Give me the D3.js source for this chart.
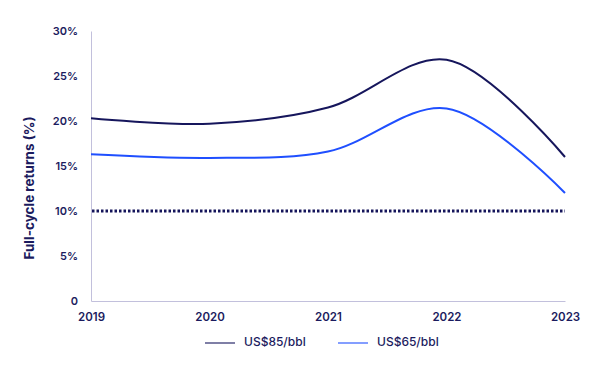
<!DOCTYPE html>
<html>
<head>
<meta charset="utf-8">
<script src="https://cdn.jsdelivr.net/npm/d3@7"></script>
<style>
  body { margin: 0; background: #fff; }
  text { font-family: Inter, "Noto Sans", sans-serif; fill: #1b1b5e; }
</style>
</head>
<body>
<div class="svg-container"></div>
<script>
// data
const years = [2019, 2020, 2021, 2022, 2023];
const us85 = [20.3, 19.7, 21.5, 26.8, 16.0];
const us65 = [16.3, 15.9, 16.6, 21.4, 12.0];
const hurdle = 10;
const yTicks = [0, 5, 10, 15, 20, 25, 30];
const seriesNames = ["US$85/bbl", "US$65/bbl"];
const seriesColours = ["#16165c", "#1f4fff"];

const width = 600, height = 380;
const margin = { top: 31, right: 35, bottom: 79, left: 91 };

const svg = d3.select(".svg-container")
  .append("svg")
  .attr("width", width)
  .attr("height", height);

const xScale = d3.scaleLinear()
  .domain([2019, 2023])
  .range([margin.left, width - margin.right]);

const yScale = d3.scaleLinear()
  .domain([0, 30])
  .range([height - margin.bottom, margin.top]);

// X-AXIS
const xAxis = svg.append("g")
  .attr("transform", "translate(0," + (height - margin.bottom) + ")")
  .call(d3.axisBottom(xScale).tickValues(years).tickFormat(d3.format("d")).tickSize(0).tickPadding(12));
xAxis.select(".domain").attr("stroke", "#c2c0dc");
xAxis.selectAll("text").style("font-size", "11.5px").style("font-weight", 600);

// Y-AXIS
const yAxis = svg.append("g")
  .attr("transform", "translate(" + margin.left + ",0)")
  .call(d3.axisLeft(yScale).tickValues(yTicks)
    .tickFormat(d => d === 0 ? "0" : d + "%").tickSize(0).tickPadding(13));
yAxis.select(".domain").attr("stroke", "#c2c0dc");
yAxis.selectAll("text").style("font-size", "11px").style("font-weight", 600);

// y-LABEL
svg.append("text")
  .attr("transform", "rotate(-90)")
  .attr("x", -188)
  .attr("y", 34)
  .attr("text-anchor", "middle")
  .style("font-size", "13.5px")
  .style("font-weight", 700)
  .text("Full-cycle returns (%)");

// hurdle line
svg.append("line")
  .attr("x1", xScale(2019) + 1)
  .attr("x2", xScale(2023))
  .attr("y1", yScale(hurdle))
  .attr("y2", yScale(hurdle))
  .attr("stroke", "#14145a")
  .attr("stroke-width", 3)
  .attr("stroke-dasharray", "2.5,2");

// lines
const line = d3.line()
  .x((d, i) => xScale(years[i]))
  .y(d => yScale(d))
  .curve(d3.curveCatmullRom.alpha(0.5));

[us85, us65].forEach((s, i) => {
  svg.append("path")
    .datum(s)
    .attr("fill", "none")
    .attr("stroke", seriesColours[i])
    .attr("stroke-width", 2)
    .attr("d", line);
});

// LEGEND
const legendX = [205, 338];
const legendY = 343;
seriesNames.forEach((name, i) => {
  svg.append("line")
    .attr("x1", legendX[i])
    .attr("x2", legendX[i] + 30)
    .attr("y1", legendY)
    .attr("y2", legendY)
    .attr("stroke", seriesColours[i])
    .attr("stroke-opacity", 0.55)
    .attr("stroke-width", 2);
  svg.append("text")
    .attr("x", legendX[i] + 39)
    .attr("y", legendY)
    .attr("dominant-baseline", "middle")
    .style("font-size", "12px")
    .style("font-weight", 500)
    .text(name);
});
</script>
</body>
</html>
